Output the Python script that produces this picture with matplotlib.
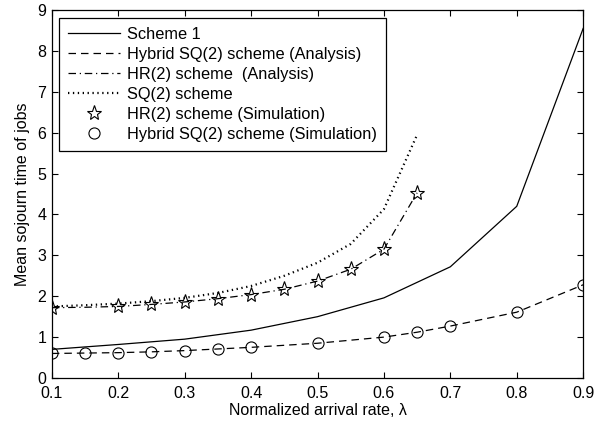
import numpy as np
import matplotlib
matplotlib.use("Agg")
import matplotlib.pyplot as plt

plt.rcParams['font.family'] = ['Liberation Sans', 'DejaVu Sans']
plt.rcParams['font.size'] = 11.5

# Scheme 1 (analysis)
x_s1 = [0.1, 0.2, 0.3, 0.4, 0.5, 0.6, 0.7, 0.8, 0.9]
y_s1 = [0.70, 0.82, 0.95, 1.17, 1.50, 1.96, 2.72, 4.20, 8.55]

# Hybrid SQ(2) analysis + simulation
x_hyb = [0.1, 0.15, 0.2, 0.25, 0.3, 0.35, 0.4, 0.5, 0.6, 0.65, 0.7, 0.8, 0.9]
y_hyb = [0.60, 0.61, 0.62, 0.64, 0.67, 0.71, 0.75, 0.85, 1.00, 1.12, 1.27, 1.61, 2.28]
y_hyb_sim = [0.60, 0.60, 0.61, 0.63, 0.66, 0.70, 0.75, 0.85, 1.00, 1.12, 1.27, 1.61, 2.28]

# HR(2) analysis
x_hr = [0.1, 0.15, 0.2, 0.25, 0.3, 0.35, 0.4, 0.45, 0.5, 0.55, 0.6, 0.65]
y_hr = [1.72, 1.73, 1.75, 1.80, 1.86, 1.94, 2.04, 2.17, 2.37, 2.66, 3.15, 4.53]

# HR(2) simulation
x_hr_sim = [0.1, 0.2, 0.25, 0.3, 0.35, 0.4, 0.45, 0.5, 0.55, 0.6, 0.65]
y_hr_sim = [1.72, 1.75, 1.80, 1.86, 1.94, 2.04, 2.17, 2.37, 2.66, 3.15, 4.53]

# SQ(2)
x_sq = [0.1, 0.15, 0.2, 0.25, 0.3, 0.35, 0.4, 0.45, 0.5, 0.55, 0.6, 0.65]
y_sq = [1.75, 1.78, 1.82, 1.88, 1.96, 2.08, 2.25, 2.50, 2.82, 3.28, 4.13, 5.95]

fig = plt.figure(figsize=(6.1, 4.38), dpi=100)
ax = fig.add_axes([0.085, 0.137, 0.871, 0.840])

ax.plot(x_s1, y_s1, '-', color='k', lw=0.9, label='Scheme 1')
ax.plot(x_hyb, y_hyb, '--', color='k', lw=0.9, dashes=(6, 4), label='Hybrid SQ(2) scheme (Analysis)')
ax.plot(x_hr, y_hr, '-.', color='k', lw=0.9, dashes=(6, 3, 1, 3), label='HR(2) scheme  (Analysis)')
ax.plot(x_sq, y_sq, ':', color='k', lw=1.6, dashes=(0.6, 1.6), label='SQ(2) scheme')
ax.plot(x_hr_sim, y_hr_sim, '*', color='k', mfc='none', ms=11, mew=0.8, ls='none',
        label='HR(2) scheme (Simulation)')
ax.plot(x_hyb, y_hyb_sim, 'o', color='k', mfc='none', ms=8, mew=0.8, ls='none',
        label='Hybrid SQ(2) scheme (Simulation)')

ax.set_xlim(0.1, 0.9)
ax.set_ylim(0, 9)
ax.set_xticks(np.arange(0.1, 0.91, 0.1))
ax.set_xticklabels(['0.1', '0.2', '0.3', '0.4', '0.5', '0.6', '0.7', '0.8', '0.9'])
ax.set_yticks(range(0, 10))
ax.tick_params(direction='in', top=True, right=True, length=4, labelsize=11.5)
ax.tick_params(axis='x', pad=6)
ax.tick_params(axis='y', pad=4)
for s in ax.spines.values():
    s.set_linewidth(0.9)

ax.set_xlabel('Normalized arrival rate, λ', fontsize=11.5, labelpad=1)
ax.set_ylabel('Mean sojourn time of jobs', fontsize=11.5, labelpad=5)

leg = ax.legend(loc='upper left', bbox_to_anchor=(0.013, 0.978), fancybox=False,
                edgecolor='k', framealpha=1, handlelength=3.2, fontsize=11.8,
                borderpad=0.55, labelspacing=0.3, handletextpad=0.4, borderaxespad=0)
leg.get_frame().set_linewidth(0.9)

fig.savefig('out.png', dpi=100)
